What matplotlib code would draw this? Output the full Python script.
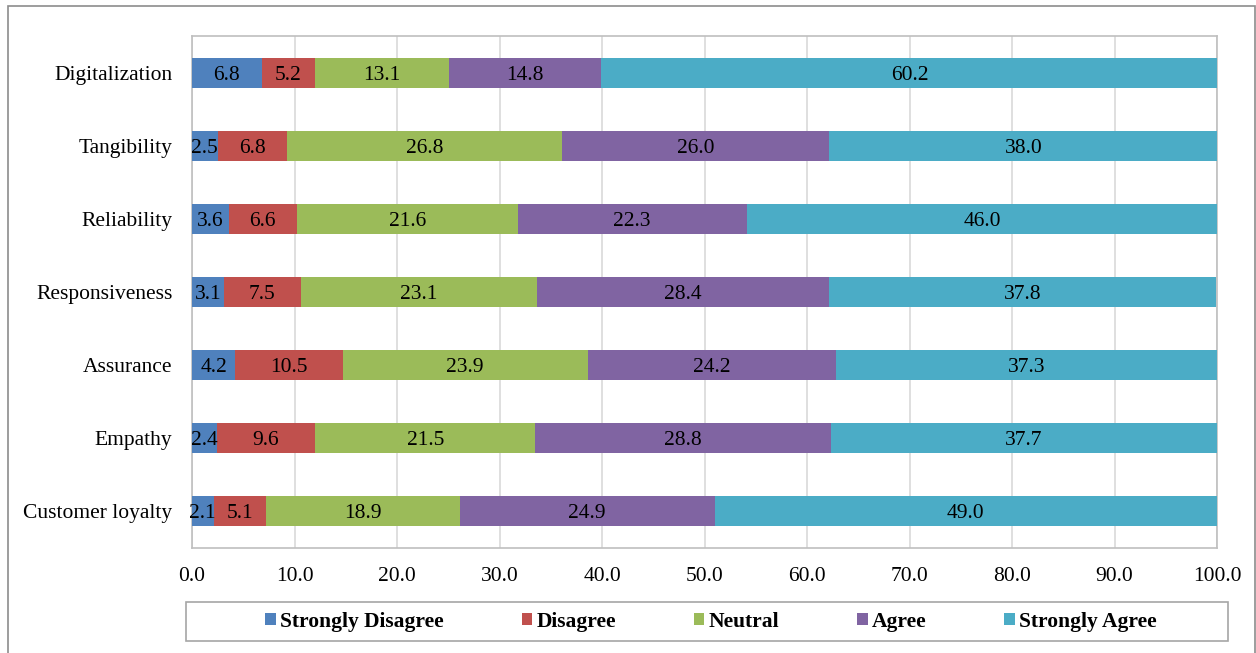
import matplotlib
matplotlib.use("Agg")
import matplotlib.pyplot as plt
from matplotlib.patches import Rectangle

categories = ["Digitalization", "Tangibility", "Reliability", "Responsiveness",
              "Assurance", "Empathy", "Customer loyalty"]
series_names = ["Strongly Disagree", "Disagree", "Neutral", "Agree", "Strongly Agree"]
strongly_disagree = [6.8, 2.5, 3.6, 3.1, 4.2, 2.4, 2.1]
disagree = [5.2, 6.8, 6.6, 7.5, 10.5, 9.6, 5.1]
neutral = [13.1, 26.8, 21.6, 23.1, 23.9, 21.5, 18.9]
agree = [14.8, 26.0, 22.3, 28.4, 24.2, 28.8, 24.9]
strongly_agree = [60.2, 38.0, 46.0, 37.8, 37.3, 37.7, 49.0]
x_ticks = [0, 10, 20, 30, 40, 50, 60, 70, 80, 90, 100]

colors = ["#4F81BD", "#C0504D", "#9BBB59", "#8064A2", "#4BACC6"]
series = [strongly_disagree, disagree, neutral, agree, strongly_agree]

plt.rcParams["font.family"] = ["Liberation Serif", "DejaVu Serif"]
FS = 15.5

fig = plt.figure(figsize=(12.56, 6.53), dpi=100)
ax = fig.add_axes([192/1256, 1-548/653, (1217-192)/1256, (548-36)/653])

n = len(categories)
ypos = [n - 1 - i for i in range(n)]
left = [0.0] * n
for name, vals, c in zip(series_names, series, colors):
    ax.barh(ypos, vals, left=left, height=0.41, color=c, label=name, zorder=3)
    for y, l, v in zip(ypos, left, vals):
        ax.text(l + v / 2, y, f"{v:.1f}", ha="center", va="center_baseline",
                fontsize=FS, color="black", zorder=4)
    left = [a + b for a, b in zip(left, vals)]

ax.set_xlim(0, 100)
ax.set_ylim(-0.5, n - 0.5)
ax.set_xticks(x_ticks)
ax.set_xticklabels([f"{t:.1f}" for t in x_ticks], fontsize=FS)
ax.set_yticks(ypos)
ax.set_yticklabels(categories, fontsize=FS)
ax.tick_params(axis="x", length=0, pad=14)
ax.tick_params(axis="y", length=0, pad=14)
ax.xaxis.grid(True, color="#d9d9d9", linewidth=1.2, zorder=0)
ax.set_axisbelow(True)
for s in ax.spines.values():
    s.set_color("#bfbfbf")
    s.set_linewidth(1.2)

handles, labels = ax.get_legend_handles_labels()
leg = fig.legend(handles, labels, loc="center",
                 bbox_to_anchor=((265+1157)/2/1256, 1-622/653),
                 ncol=5, frameon=False,
                 prop={"weight": "bold", "size": FS}, handlelength=0.5,
                 handleheight=0.5, handletextpad=0.2, columnspacing=3.6,
                 borderpad=0.0)

fig.patches.append(Rectangle((186/1256, 1-641/653), (1228-186)/1256, 39/653,
                             transform=fig.transFigure, fill=False,
                             edgecolor="#a6a6a6", linewidth=1.2))
fig.patches.append(Rectangle((8/1256, -0.02), (1255-8)/1256, 1-6/653+0.02,
                             transform=fig.transFigure, fill=False,
                             edgecolor="#8c8c8c", linewidth=1.2))

fig.savefig("out.png", dpi=100)
